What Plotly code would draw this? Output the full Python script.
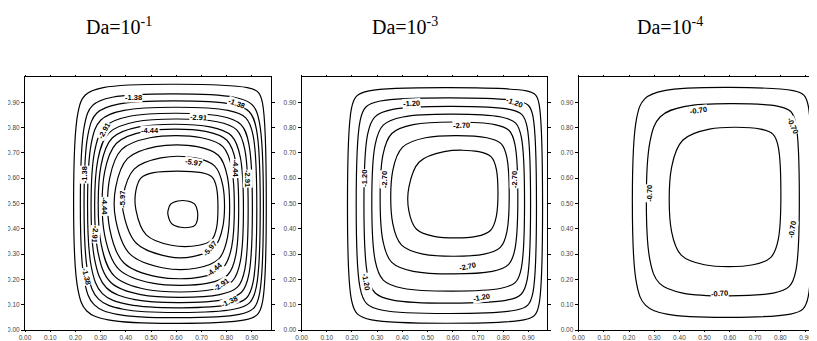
import plotly.graph_objects as go

# ---------------- data ----------------
titles = ["Da=10<sup>-1</sup>", "Da=10<sup>-3</sup>", "Da=10<sup>-4</sup>"]
tick_vals = [0.0, 0.1, 0.2, 0.3, 0.4, 0.5, 0.6, 0.7, 0.8, 0.9]
tick_text = ["0.00", "0.10", "0.20", "0.30", "0.40", "0.50", "0.60", "0.70", "0.80", "0.90"]

# Panel 1 (Da=1e-1): stream-function levels and contour extents (data units)
levels1 = [-0.87, -1.38, -1.89, -2.40, -2.91, -3.42, -3.93, -4.44, -4.95, -5.46, -5.97, -6.48, -6.99]
left1   = [0.210, 0.236, 0.250, 0.263, 0.276, 0.289, 0.302, 0.316, 0.336, 0.360, 0.389, 0.440, 0.567]
right1  = [0.942, 0.930, 0.918, 0.905, 0.888, 0.872, 0.854, 0.836, 0.820, 0.803, 0.785, 0.760, 0.684]
bottom1 = [0.040, 0.062, 0.082, 0.100, 0.120, 0.140, 0.160, 0.185, 0.210, 0.245, 0.290, 0.335, 0.406]
top1    = [0.958, 0.920, 0.893, 0.868, 0.845, 0.823, 0.803, 0.785, 0.760, 0.725, 0.680, 0.622, 0.510]
rbl1    = [0.12, 0.13, 0.14, 0.15, 0.16, 0.17, 0.18, 0.19, 0.19, 0.19, 0.18, 0.14, 0.05]
rbr1    = [0.07, 0.08, 0.09, 0.09, 0.10, 0.10, 0.11, 0.11, 0.12, 0.12, 0.12, 0.07, 0.03]
rtr1    = [0.06, 0.10, 0.10, 0.10, 0.11, 0.11, 0.12, 0.12, 0.12, 0.12, 0.11, 0.06, 0.04]
rtl1    = [0.10, 0.11, 0.12, 0.13, 0.14, 0.15, 0.15, 0.16, 0.16, 0.16, 0.15, 0.07, 0.04]

# Panel 2 (Da=1e-3)
levels2 = [-0.70, -1.20, -1.70, -2.20, -2.70, -3.20, -3.70]
left2   = [0.198, 0.232, 0.262, 0.292, 0.323, 0.362, 0.426]
right2  = [0.942, 0.918, 0.895, 0.872, 0.847, 0.815, 0.773]
bottom2 = [0.040, 0.078, 0.118, 0.165, 0.232, 0.300, 0.370]
top2    = [0.945, 0.905, 0.872, 0.842, 0.812, 0.760, 0.705]
rbl2    = [0.08, 0.09, 0.10, 0.11, 0.12, 0.12, 0.10]
rbr2    = [0.06, 0.07, 0.08, 0.08, 0.09, 0.09, 0.08]
rtr2    = [0.05, 0.06, 0.07, 0.08, 0.08, 0.08, 0.07]
rtl2    = [0.07, 0.08, 0.10, 0.11, 0.12, 0.13, 0.14]

# Panel 3 (Da=1e-4)
levels3 = [-0.35, -0.70, -1.05]
left3   = [0.230, 0.283, 0.369]
right3  = [0.911, 0.862, 0.792]
bottom3 = [0.063, 0.146, 0.258]
top3    = [0.946, 0.884, 0.794]
rbl3    = [0.12, 0.13, 0.13]
rbr3    = [0.07, 0.09, 0.10]
rtr3    = [0.06, 0.07, 0.07]
rtl3    = [0.11, 0.14, 0.15]

# Contour labels: text, x, y, angle
lab1_text  = ["-1.38", "-1.38", "-2.91", "-2.91", "-4.44", "-5.97", "-1.38", "-4.44", "-2.91",
              "-5.97", "-4.44", "-2.91", "-1.38", "-5.97", "-4.44", "-2.91", "-1.38"]
lab1_x     = [0.430, 0.839, 0.687, 0.316, 0.495, 0.667, 0.237, 0.835, 0.885,
              0.389, 0.316, 0.277, 0.244, 0.733, 0.752, 0.780, 0.812]
lab1_y     = [0.919, 0.895, 0.840, 0.787, 0.787, 0.661, 0.615, 0.640, 0.600,
              0.515, 0.490, 0.377, 0.212, 0.324, 0.238, 0.178, 0.112]
lab1_angle = [0, 20, 3, -60, 0, 10, -90, 90, 90,
              -90, 90, 95, 75, -50, -40, -35, -25]

lab2_text  = ["-1.20", "-1.20", "-2.70", "-1.20", "-2.70", "-2.70", "-1.20", "-2.70", "-1.20"]
lab2_x     = [0.435, 0.843, 0.634, 0.250, 0.329, 0.845, 0.256, 0.660, 0.713]
lab2_y     = [0.897, 0.900, 0.810, 0.600, 0.595, 0.595, 0.192, 0.251, 0.130]
lab2_angle = [-3, 20, -3, -90, -90, -90, 80, -12, -10]

lab3_text  = ["-0.70", "-0.70", "-0.70", "-0.70", "-0.70"]
lab3_x     = [0.475, 0.848, 0.283, 0.848, 0.560]
lab3_y     = [0.866, 0.807, 0.542, 0.397, 0.146]
lab3_angle = [-8, 65, -90, -80, -5]

# ---------------- layout geometry ----------------
# The page body has an 8 px margin, so the figure is drawn 8 px in from the window corner.
OFF = 8
W, H = 817 - OFF, 341 - OFF
ML, MR, MT, MB = 25.3 - OFF, 0, 77.3 - OFF, 11
PW = W - ML - MR
panel_px = [(25.3 - OFF, 271.0 - OFF), (301.7 - OFF, 546.7 - OFF), (578.7 - OFF, 817.0 - OFF)]
px_per_unit = 252.0


def rounded_loop(L, R, B, T, rbl, rbr, rtr, rtl):
    k = 0.293
    xs = [L, L + k * rbl, L + rbl, R - rbr, R - k * rbr, R, R, R - k * rtr, R - rtr, L + rtl, L + k * rtl, L]
    ys = [B + rbl, B + k * rbl, B, B, B + k * rbr, B + rbr, T - rtr, T - k * rtr, T, T, T - k * rtl, T - rtl]
    xs.append(xs[0])
    ys.append(ys[0])
    return xs, ys


fig = go.Figure()

panels = [
    (levels1, left1, right1, bottom1, top1, rbl1, rbr1, rtr1, rtl1, lab1_text, lab1_x, lab1_y, lab1_angle),
    (levels2, left2, right2, bottom2, top2, rbl2, rbr2, rtr2, rtl2, lab2_text, lab2_x, lab2_y, lab2_angle),
    (levels3, left3, right3, bottom3, top3, rbl3, rbr3, rtr3, rtl3, lab3_text, lab3_x, lab3_y, lab3_angle),
]
title_x = [0.372, 0.409, 0.362]

annotations = []
for i, (lev, Ls, Rs, Bs, Ts, a, b, c, d, lt, lx, ly, la) in enumerate(panels):
    xa = "x" if i == 0 else f"x{i+1}"
    ya = "y" if i == 0 else f"y{i+1}"
    for j in range(len(lev)):
        xs, ys = rounded_loop(Ls[j], Rs[j], Bs[j], Ts[j], a[j], b[j], c[j], d[j])
        fig.add_trace(go.Scatter(
            x=xs, y=ys, mode="lines", xaxis=xa, yaxis=ya,
            line=dict(color="black", width=1.2, shape="spline", smoothing=1.0),
            hoverinfo="skip", showlegend=False, name=str(lev[j])))
    for t, x, y, ang in zip(lt, lx, ly, la):
        annotations.append(dict(
            x=x, y=y, xref=xa, yref=ya, text=f"<b>{t}</b>", showarrow=False,
            textangle=ang, bgcolor="white", borderpad=0,
            font=dict(family="Arial, Liberation Sans", size=7.5, color="black"),
            xanchor="center", yanchor="middle"))
    annotations.append(dict(
        x=title_x[i], y=1.20, xref=xa, yref="paper", text=titles[i], showarrow=False,
        font=dict(family="Times New Roman, Liberation Serif", size=20, color="black"),
        xanchor="center", yanchor="middle"))

axis_common = dict(
    tickmode="array", tickvals=tick_vals, ticktext=tick_text,
    ticks="outside", ticklen=3, tickwidth=1, tickcolor="black",
    showline=True, linecolor="black", linewidth=1,
    showgrid=False, zeroline=False,
    tickfont=dict(family="Arial, Liberation Sans", size=6.5, color="#444"),
    automargin=False, fixedrange=True,
)

layout = dict(
    width=W, height=H, margin=dict(l=ML, r=MR, t=MT, b=MB, pad=0),
    paper_bgcolor="white", plot_bgcolor="white", showlegend=False,
    annotations=annotations, template="none",
)
for i, (p0, p1) in enumerate(panel_px):
    xa = "xaxis" if i == 0 else f"xaxis{i+1}"
    ya = "yaxis" if i == 0 else f"yaxis{i+1}"
    dom = [max(0.0, (p0 - ML) / PW), min(1.0, (p1 - ML) / PW)]
    xr = [0, (p1 - p0) / px_per_unit]
    layout[xa] = dict(axis_common, domain=dom, range=xr, mirror="ticks",
                      ticklen=1, ticklabelstandoff=0,
                      anchor="y" if i == 0 else f"y{i+1}")
    layout[ya] = dict(axis_common, domain=[0, 1], range=[0, 1.0],
                      mirror="ticks" if i < 2 else False,
                      anchor="x" if i == 0 else f"x{i+1}")

fig.update_layout(**layout)
fig.write_html("out.html")
